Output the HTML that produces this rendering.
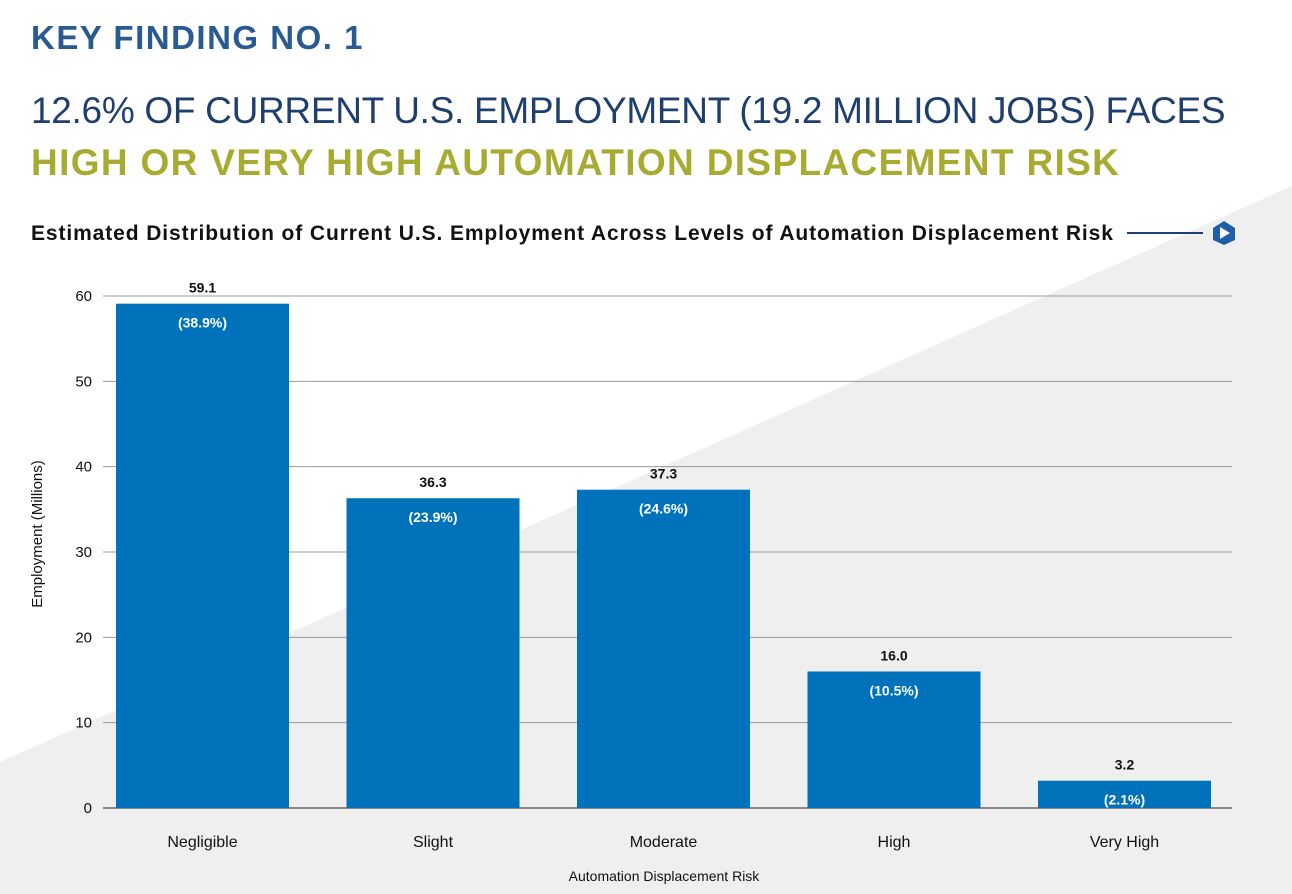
<!DOCTYPE html>
<html><head><meta charset="utf-8"><style>
body{margin:0;width:1292px;height:894px;overflow:hidden;background:#fff;font-family:"Liberation Sans",sans-serif;position:relative}
.t{position:absolute;margin:0;white-space:nowrap}
</style></head><body>
<svg width="1292" height="894" style="position:absolute;left:0;top:0">
<polygon points="0,762 1292,186 1292,894 0,894" fill="#efefef"/>
</svg>
<div class="t" style="left:31px;top:19px;font-size:33px;font-weight:bold;color:#2a5a92;letter-spacing:1.5px">KEY FINDING NO. 1</div>
<div class="t" style="left:31px;top:90px;font-size:37px;color:#1f3f6e;letter-spacing:-0.3px">12.6% OF CURRENT U.S. EMPLOYMENT (19.2 MILLION JOBS) FACES</div>
<div class="t" style="left:31px;top:142px;font-size:37px;font-weight:bold;color:#a7ab31;letter-spacing:1.35px">HIGH OR VERY HIGH AUTOMATION DISPLACEMENT RISK</div>
<div class="t" style="left:31px;top:222px;font-size:21px;font-weight:bold;color:#111;letter-spacing:0.9px">Estimated Distribution of Current U.S. Employment Across Levels of Automation Displacement Risk</div>
<svg width="1292" height="894" style="position:absolute;left:0;top:0" id="chart">
<line x1="1127" y1="233" x2="1203" y2="233" stroke="#1f3f6e" stroke-width="2"/>
<g transform="translate(1224,233)">
<polygon points="0,-12 11,-5 11,7 0,12 -11,7 -11,-5" fill="#1f5fa8"/>
<polygon points="-4,-6 6,0 -4,6" fill="#fff"/>
</g>
<text x="60" y="552" transform="rotate(-90 42 552)" font-size="15" fill="#111" text-anchor="middle">Employment (Millions)</text>
<text x="664" y="881" font-size="14" fill="#111" text-anchor="middle">Automation Displacement Risk</text>
</svg>
<script>
const categories=["Negligible","Slight","Moderate","High","Very High"];
const values=[59.1,36.3,37.3,16.0,3.2];
const shares=["(38.9%)","(23.9%)","(24.6%)","(10.5%)","(2.1%)"];
const ticks=[0,10,20,30,40,50,60];
const svg=document.getElementById('chart');
const NS='http://www.w3.org/2000/svg';
const y0=808,pxPerUnit=(808-296)/60,left=103,right=1232,slot=230.5,first=116,bw=173;
const y=v=>y0-v*pxPerUnit;
const x=i=>first+i*slot;
function mk(tag,attrs,txt){const e=document.createElementNS(NS,tag);for(const k in attrs)e.setAttribute(k,attrs[k]);if(txt!=null)e.textContent=txt;svg.appendChild(e);return e;}
ticks.forEach(t=>{
 const g=mk('line',{x1:left,x2:right,y1:y(t),y2:y(t),stroke:t===0?'#666':'#9a9a9a','stroke-width':t===0?1.5:1});
 
 
 const l=mk('text',{x:92,y:y(t)+5,'font-size':15,fill:'#111','text-anchor':'end'},t);
 
 
});
categories.forEach((c,i)=>{
 const r=mk('rect',{x:x(i),y:y(values[i]),width:bw,height:y0-y(values[i]),fill:'#0072bc'});
 
 
 const cx=x(i)+bw/2;
 const v=mk('text',{x:cx,y:y(values[i])-11,'font-size':14,'font-weight':'bold',fill:'#111','text-anchor':'middle'},values[i].toFixed(1));
 
 
 const s=mk('text',{x:cx,y:y(values[i])+24,'font-size':14,'font-weight':'bold',fill:'#fff','text-anchor':'middle'},shares[i]);
 
 
 const xl=mk('text',{x:cx,y:847,'font-size':16,fill:'#111','text-anchor':'middle'},c);
 
 
});
</script>
</body></html>
